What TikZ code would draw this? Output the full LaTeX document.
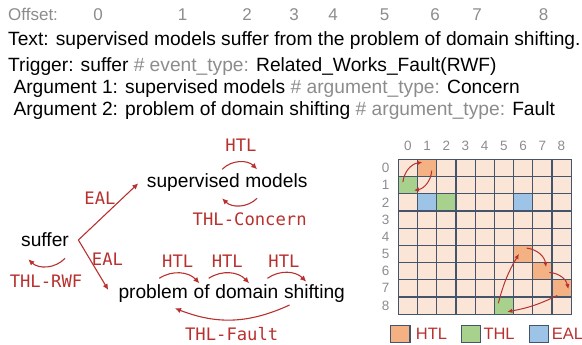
\documentclass[tikz,border=0pt]{standalone}
\usepackage{fontspec}
\setmainfont{Liberation Sans}
\setmonofont{DejaVu Sans Mono}
\usetikzlibrary{arrows.meta,calc}
\definecolor{linkred}{HTML}{B8312F}
\definecolor{softgray}{HTML}{8C8C8C}
\definecolor{cellbase}{HTML}{FBE5D6}
\definecolor{htlfill}{HTML}{F4B183}
\definecolor{thlfill}{HTML}{A9D18E}
\definecolor{ealfill}{HTML}{9DC3E6}
\definecolor{gridline}{HTML}{44546A}
\begin{document}
\begin{tikzpicture}[x=1pt,y=-1pt,
  textline/.style={anchor=base west, inner sep=0pt, font=\fontsize{19.2}{23}\selectfont},
  offnum/.style={anchor=base, inner sep=0pt, text=softgray, font=\fontsize{17}{20}\selectfont},
  word/.style={anchor=base west, inner sep=0pt, font=\fontsize{19.2}{23}\selectfont},
  rel/.style={inner sep=0pt, text=linkred, font=\ttfamily\fontsize{17.2}{20}\selectfont},
  link/.style={draw=linkred, line width=1.1pt, -{Latex[length=6pt,width=5.5pt]}},
  gridlink/.style={draw=linkred, line width=1pt, -{Latex[length=5pt,width=4.5pt]}},
  cell/.style={draw=gridline, line width=1.2pt, fill=cellbase, minimum width=19.2pt,
    minimum height=17.2pt, inner sep=0pt, outer sep=0pt},
  idx/.style={inner sep=0pt, text=softgray, font=\fontsize{13.5}{16}\selectfont},
  legtext/.style={anchor=west, inner sep=0pt, text=linkred, font=\fontsize{16.5}{19}\selectfont},
]
\useasboundingbox (0,0) rectangle (582,345);

% ---- sentence, offsets and annotation ----
\node[textline, text=softgray, font=\fontsize{17}{20}\selectfont] (offlbl) at (8,20.7) {Offset:};
\foreach \i/\x in {0/98,1/182.5,2/247,3/294,4/333,5/384.5,6/435,7/477,8/543.5}
  \node[offnum] (off-\i) at (\x,20.7) {\i};
\node[textline] (sent) at (8,46) {Text: supervised models suffer from the problem of domain shifting.};
\node[textline] (trig) at (8,72) {Trigger: suffer \textcolor{softgray}{\# event\_type:} Related\_Works\_Fault(RWF)};
\node[textline] (arga) at (13.3,93.5) {Argument 1: supervised models \textcolor{softgray}{\# argument\_type:} Concern};
\node[textline] (argb) at (13.3,115.5) {Argument 2: problem of domain shifting \textcolor{softgray}{\# argument\_type:} Fault};

% ---- event graph ----
\node[word] (suffer) at (21,246.7) {suffer};
\node[word] (s1) at (146.7,187) {supervised};
\node[word] (s2) at ($(s1.base east)+(5.34,0)$) {models};
\node[word] (p1) at (118.3,298.3) {problem};
\node[word] (p2) at ($(p1.base east)+(5.34,0)$) {of};
\node[word] (p3) at ($(p2.base east)+(5.34,0)$) {domain};
\node[word] (p4) at ($(p3.base east)+(5.34,0)$) {shifting};

\coordinate (fork) at ($(suffer.base east)+(9.3,-6.7)$);
\draw[link] (fork) -- ($(s1.base west)+(-8.4,-3.7)$);
\draw[link] (fork) -- ($(p1.base west)+(-10,-8.3)$);
\node[rel] (eal-up) at (100,198.3) {EAL};
\node[rel] (eal-dn) at (107.5,259.3) {EAL};

\draw[link] ($(suffer.base east)+(-4,11.6)$) to[bend left=45] ($(suffer.base west)+(7.3,12.6)$);
\node[rel] (thl-rwf) at (46,281.7) {THL-RWF};

\draw[link] ($(s1.base east)+(-17.8,-17.7)$) to[bend left=45] ($(s2.base west)+(11.8,-17.7)$);
\draw[link] ($(s2.base west)+(11.8,11.3)$) to[bend left=45] ($(s1.base east)+(-17.8,11.3)$);
\node[rel] (htl-s) at (241,145) {HTL};
\node[rel] (thl-c) at (249.7,219.3) {THL-Concern};

\draw[link] ($(p1.base west)+(41,-20)$) to[bend left=40] ($(p2.base west)+(6,-15)$);
\draw[link] ($(p2.base west)+(15.3,-20)$) to[bend left=40] ($(p3.base west)+(34,-15)$);
\draw[link] ($(p3.base west)+(52.3,-20)$) to[bend left=40] ($(p4.base west)+(22.4,-16.6)$);
\node[rel] (htl-a) at (177.7,261) {HTL};
\node[rel] (htl-b) at (227.3,261) {HTL};
\node[rel] (htl-c) at (284,261) {HTL};
\draw[link] ($(p4.base west)+(5.7,6.7)$) to[bend left=23] ($(p1.base west)+(56.7,10)$);
\node[rel] (thl-f) at (231.7,334) {THL-Fault};

% ---- link table ----
\foreach \r in {0,...,8}{
  \foreach \c in {0,...,8}{
    \node[cell] (g-\r-\c) at ({398.3+19.2*(\c+0.5)},{159.3+17.2*(\r+0.5)}) {};
  }
}
\foreach \r/\c/\col in {0/1/htlfill,5/6/htlfill,6/7/htlfill,7/8/htlfill,
                        1/0/thlfill,2/2/thlfill,8/5/thlfill,2/1/ealfill,2/6/ealfill}
  \node[cell, fill=\col] (hl-\r-\c) at (g-\r-\c) {};
\foreach \c in {0,...,8}
  \node[idx] (col-\c) at ({398.3+19.2*(\c+0.5)},146) {\c};
\foreach \r in {0,...,8}
  \node[idx] (row-\r) at (385.7,{159.3+17.2*(\r+0.5)}) {\r};

\draw[gridlink] ($(g-1-0.center)+(-5,-3)$) to[bend left=38] ($(g-0-1.center)+(-4.8,-5.6)$);
\draw[gridlink] ($(g-0-1.center)+(4.6,2.8)$) to[bend left=38] ($(g-1-0.center)+(6.1,5.3)$);
\draw[gridlink] ($(g-8-5.center)+(-5.6,-2.2)$) to[bend left=8] ($(g-5-6.center)+(-4.1,0)$);
\draw[gridlink] ($(g-5-6.center)+(3.6,-5.8)$) to[bend left=38] ($(g-6-7.center)+(3.7,-4)$);
\draw[gridlink] ($(g-6-7.center)+(7,1.4)$) to[bend left=38] ($(g-7-8.center)+(6.8,0.8)$);
\draw[gridlink] ($(g-7-8.center)+(-4.2,7.2)$) to[bend left=8] ($(g-8-5.center)+(3.4,6.2)$);

% ---- legend ----
\node[cell, fill=htlfill] (leg-htl) at (400.4,333.7) {};
\node[legtext] (leg-htl-t) at (415.7,334.3) {HTL};
\node[cell, fill=thlfill] (leg-thl) at (470.8,333.7) {};
\node[legtext] (leg-thl-t) at (483.3,334.3) {THL};
\node[cell, fill=ealfill] (leg-eal) at (538.8,333.7) {};
\node[legtext] (leg-eal-t) at (551.7,334.3) {EAL};
\end{tikzpicture}
\end{document}
